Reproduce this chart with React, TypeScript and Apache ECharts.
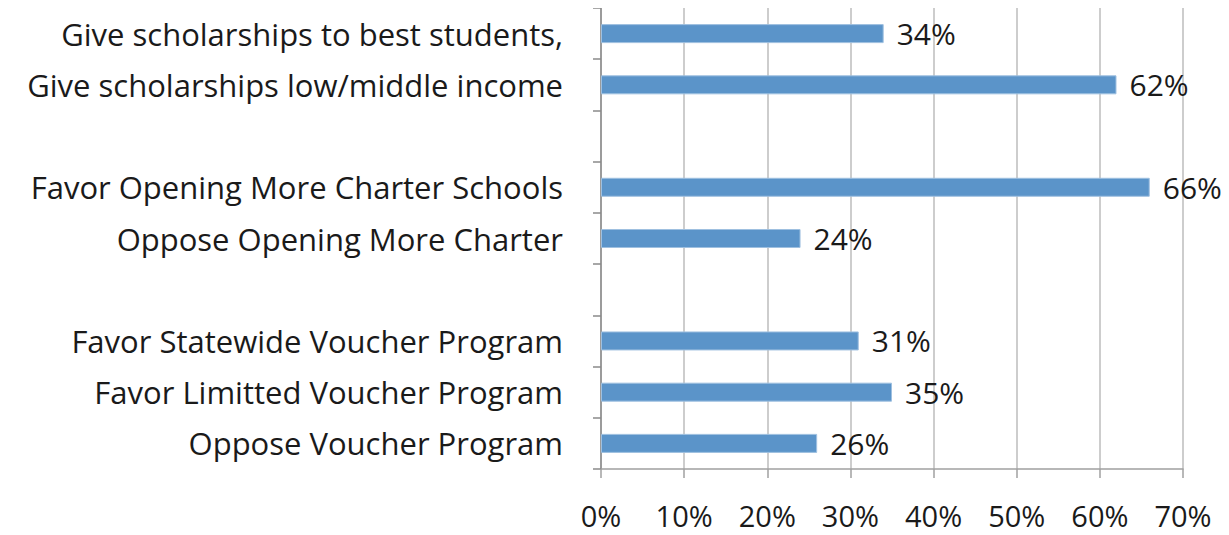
import React, { useEffect, useRef } from "react";
import * as echarts from "echarts";

const categories = [
  "Give scholarships to best students,",
  "Give scholarships low/middle income",
  "",
  "Favor Opening More Charter Schools",
  "Oppose Opening More Charter",
  "",
  "Favor Statewide Voucher Program",
  "Favor Limitted Voucher Program",
  "Oppose Voucher Program",
];
const values: (number | null)[] = [34, 62, null, 66, 24, null, 31, 35, 26];
const xTicks = [0, 10, 20, 30, 40, 50, 60, 70];

const FONT = "Open Sans";

export default function App() {
  const ref = useRef<HTMLDivElement>(null);
  useEffect(() => {
    const chart = echarts.init(ref.current!, null, { renderer: "svg" });
    chart.setOption({
      animation: false,
      backgroundColor: "#ffffff",
      grid: { left: 601, right: 46, top: 8, bottom: 66, containLabel: false },
      xAxis: {
        type: "value",
        min: xTicks[0],
        max: xTicks[xTicks.length - 1],
        interval: 10,
        axisLine: { show: true, lineStyle: { color: "#a0a0a0", width: 1.5 } },
        axisTick: { show: true, length: 9, lineStyle: { color: "#a0a0a0", width: 1.5 } },
        splitLine: { show: true, lineStyle: { color: "#bdbdbd", width: 1.5 } },
        axisLabel: {
          formatter: (v: number) => `${v}%`,
          fontFamily: FONT,
          fontSize: 29,
          lineHeight: 28,
          color: "#1a1a1a",
          margin: 32,
        },
      },
      yAxis: {
        type: "category",
        data: categories,
        inverse: true,
        axisLine: { show: true, lineStyle: { color: "#8a8a8a", width: 1.5 } },
        axisTick: { show: true, length: 8, lineStyle: { color: "#8a8a8a", width: 1.5 } },
        axisLabel: {
          fontFamily: FONT,
          fontSize: 31,
          lineHeight: 32,
          padding: [6, 0, 0, 0],
          color: "#1a1a1a",
          margin: 38,
        },
      },
      series: [
        {
          type: "bar",
          data: values,
          barWidth: 19,
          itemStyle: { color: "#5b94c9", borderColor: "#9fc0e0", borderWidth: 1 },
          label: {
            show: true,
            position: "right",
            distance: 13,
            formatter: (p: any) => `${p.value}%`,
            fontFamily: FONT,
            fontSize: 30,
            lineHeight: 30,
            padding: [6, 0, 0, 0],
            color: "#1a1a1a",
          },
        },
      ],
    });
    return () => chart.dispose();
  }, []);
  return <div ref={ref} style={{ width: 1229, height: 535, marginLeft: -8, marginTop: -8 }} />;
}
